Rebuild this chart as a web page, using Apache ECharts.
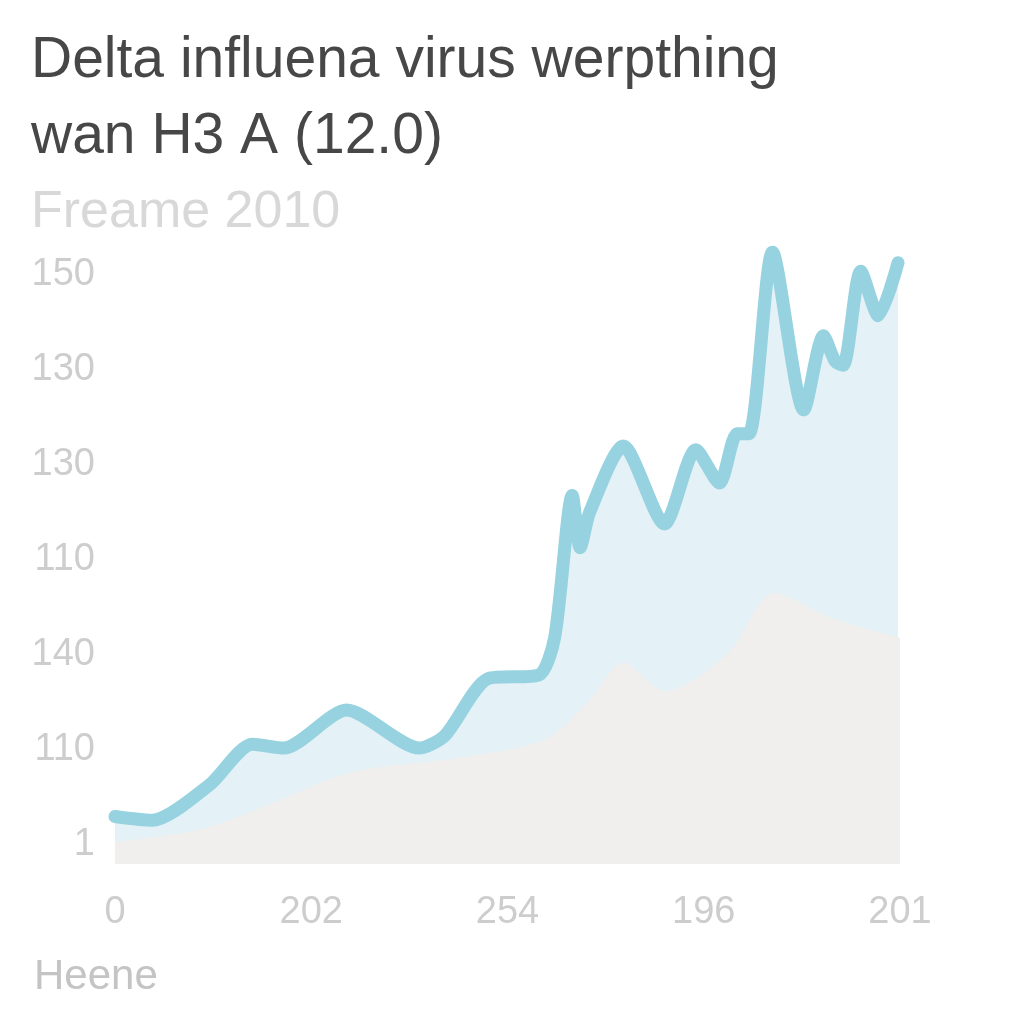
<!DOCTYPE html>
<html>
<head>
<meta charset="utf-8">
<script src="https://cdn.jsdelivr.net/npm/echarts@6/dist/echarts.min.js"></script>
<style>html,body{margin:0;padding:0;background:#fff}#c{width:1024px;height:1024px}</style>
</head>
<body>
<div id="c"></div>
<script>
const titleText = "Delta influena virus werpthing\nwan H3 A (12.0)";
const subtitleText = "Freame 2010";
const xAxisName = "Heene";
const xTickLabels = ["0", "202", "254", "196", "201"];
const yTickLabels = ["1", "110", "140", "110", "130", "130", "150"];

// blue series (x in tick-index units, y in tick-index units)
const blueX = [0, 0.19, 0.48, 0.70, 0.86, 1.18, 1.55, 1.68, 1.90, 2.16, 2.24, 2.33, 2.37, 2.42, 2.59, 2.80, 2.96, 3.08, 3.17, 3.23, 3.35, 3.51, 3.61, 3.67, 3.71, 3.80, 3.89, 3.99];
const blueY = [0.30, 0.26, 0.63, 1.06, 1.02, 1.42, 1.02, 1.15, 1.75, 1.79, 2.18, 3.68, 3.13, 3.51, 4.20, 3.38, 4.16, 3.81, 4.33, 4.33, 6.24, 4.58, 5.36, 5.09, 5.05, 6.04, 5.57, 6.13];

// gray series
const grayX = [0, 0.43, 0.72, 1.20, 1.79, 2.19, 2.42, 2.59, 2.80, 3.12, 3.36, 3.65, 4.00];
const grayY = [0.03, 0.16, 0.37, 0.76, 0.93, 1.11, 1.53, 1.92, 1.62, 2.01, 2.65, 2.39, 2.18];

const zip = (xs, ys) => xs.map((x, i) => [x, ys[i]]);
const font = "Liberation Sans";

const chart = echarts.init(document.getElementById('c'), null, {renderer: 'canvas'});
chart.setOption({
  backgroundColor: '#ffffff',
  animation: false,
  title: {
    text: titleText,
    subtext: subtitleText,
    left: 26,
    top: 18,
    itemGap: 12,
    textStyle: {fontFamily: font, fontSize: 57, fontWeight: 'normal', color: '#474747', lineHeight: 76},
    subtextStyle: {fontFamily: font, fontSize: 52, color: '#d8d8d8'}
  },
  grid: {left: 115, right: 124, top: 237, bottom: 160},
  xAxis: {
    type: 'value', min: 0, max: 4, interval: 1,
    axisLine: {show: false}, axisTick: {show: false}, splitLine: {show: false},
    axisLabel: {
      fontFamily: font, fontSize: 38, color: '#cdcdcd', margin: 30,
      formatter: v => xTickLabels[Math.round(v)] ?? ''
    }
  },
  yAxis: {
    type: 'value', min: -0.2, max: 6.4,
    axisLine: {show: false}, axisTick: {show: false}, splitLine: {show: false},
    axisLabel: {
      customValues: [0, 1, 2, 3, 4, 5, 6],
      fontFamily: font, fontSize: 38, color: '#cdcdcd', margin: 20,
      formatter: v => yTickLabels[Math.round(v)] ?? ''
    }
  },
  graphic: [{
    type: 'text', left: 34, top: 956,
    style: {text: xAxisName, fontFamily: font, fontSize: 42, fill: '#c4c4c4'}
  }],
  series: [
    {
      type: 'line', name: 'blue', data: zip(blueX, blueY), showSymbol: false, smooth: 0.25,
      lineStyle: {color: '#96d2df', width: 13, join: 'round', cap: 'round'},
      areaStyle: {color: '#e4f1f6', opacity: 1, origin: 'start'}, z: 2
    },
    {
      type: 'line', name: 'gray', data: zip(grayX, grayY), showSymbol: false, smooth: 0.3,
      lineStyle: {width: 0}, areaStyle: {color: '#f0efed', opacity: 1, origin: 'start'}, z: 3
    }
  ]
});
</script>
</body>
</html>
